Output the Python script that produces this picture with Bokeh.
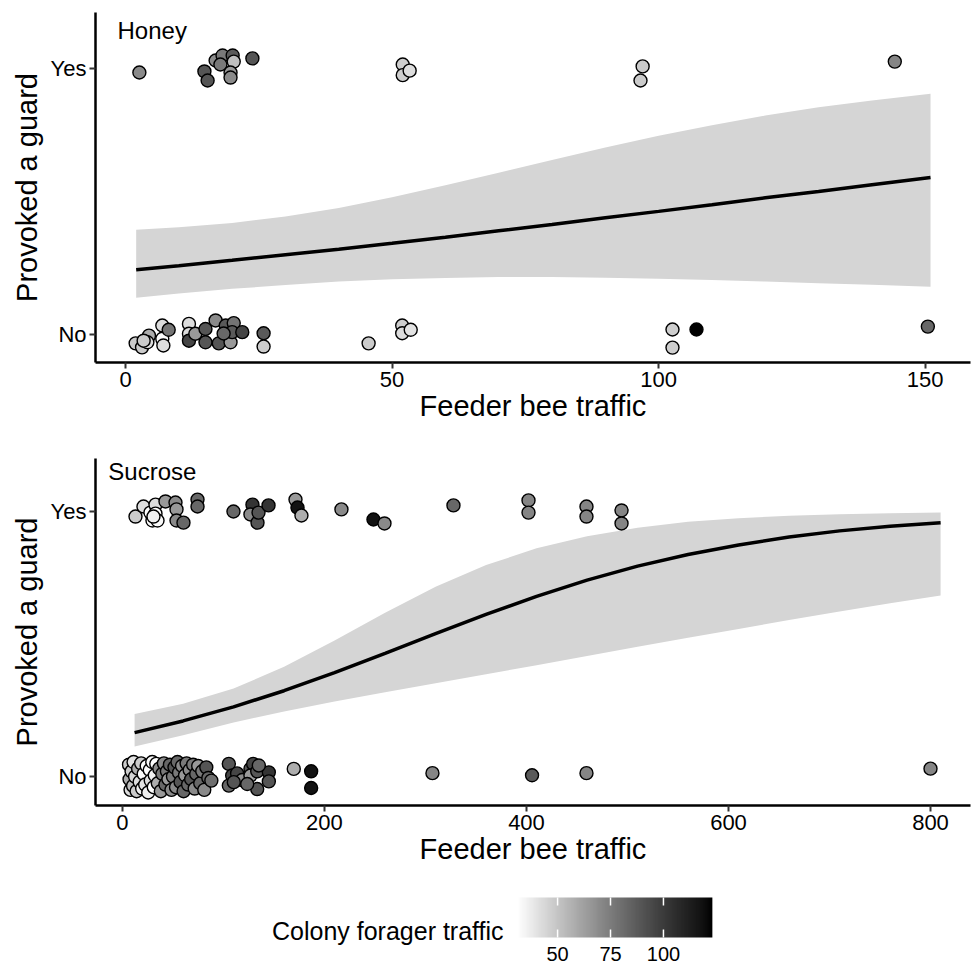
import numpy as np
from bokeh.plotting import figure
from bokeh.models import Range1d, FixedTicker, LinearColorMapper, ColumnDataSource
from bokeh.layouts import column
from bokeh.embed import file_html
from bokeh.resources import INLINE
from bokeh.core.properties import value

FONT = "Liberation Sans"

# ---------------- data ----------------
# colour scale (colony forager traffic)
COL_LOW, COL_HIGH = 31.0, 123.1
CB_TICKS = [50, 75, 100]

# Honey panel: points (x = feeder bee traffic, y = 0/1 with jitter, c = colony forager traffic)
honey_yes_x = [2.6, 14.8, 15.4, 16.9, 18.2, 17.8, 20.1, 20.3, 19.7, 19.7, 23.8, 52.0, 52.0, 53.3, 97.0, 96.6, 144.3]
honey_yes_y = [0.985, 0.989, 0.955, 1.030, 1.049, 1.015, 1.049, 1.026, 0.985, 0.966, 1.038, 1.015, 0.975, 0.992, 1.008, 0.955, 1.026]
honey_yes_c = [70, 90, 90, 70, 76, 76, 88, 52, 65, 70, 90, 47, 47, 42, 48, 48, 72]

honey_no_x = [1.9, 3.1, 4.4, 4.1, 3.4, 6.9, 6.9, 7.1, 8.1, 11.9, 11.9, 11.9, 13.1, 15.0, 15.0, 16.9, 17.5,
              18.8, 19.7, 20.3, 20.0, 21.9, 18.4, 25.9, 25.9, 45.6, 51.9, 51.9, 53.5, 102.6, 102.6, 107.1, 150.5]
honey_no_y = [-0.033, -0.048, -0.004, -0.029, -0.023, 0.034, -0.016, -0.041, 0.018, 0.040, 0.003, -0.023, 0.003,
              0.021, -0.029, 0.053, -0.033, 0.034, -0.029, 0.043, 0.009, 0.009, 0.004, 0.005, -0.045, -0.033,
              0.034, 0.005, 0.018, 0.019, -0.049, 0.019, 0.030]
honey_no_c = [48, 48, 58, 42, 48, 42, 32, 42, 78, 42, 42, 96, 65, 90, 90, 70, 90, 88, 65, 78, 88, 96, 83, 88,
              48, 48, 47, 42, 40, 47, 47, 123, 83]

# Honey fitted curve and confidence band
honey_fx = [2, 10, 20, 30, 40, 50, 60, 70, 80, 90, 100, 110, 120, 130, 140, 151]
honey_fit = [0.244, 0.259, 0.279, 0.300, 0.321, 0.343, 0.366, 0.390, 0.414, 0.439, 0.463, 0.488, 0.514,
             0.538, 0.563, 0.590]
honey_lo = [0.138, 0.154, 0.172, 0.186, 0.199, 0.208, 0.213, 0.216, 0.216, 0.214, 0.210, 0.205, 0.199,
            0.193, 0.187, 0.180]
honey_hi = [0.394, 0.403, 0.419, 0.444, 0.476, 0.516, 0.561, 0.608, 0.656, 0.703, 0.747, 0.787, 0.823,
            0.854, 0.880, 0.905]

# Sucrose panel
sucrose_yes_x = [12.9, 20.8, 27.7, 29.7, 32.7, 32.7, 34.7, 30.7, 42.6, 52.5, 53.5, 53.5, 60.4, 74.3, 74.3,
                 109.9, 128.7, 126.7, 133.7, 134.7, 144.6, 171.3, 173.3, 177.2, 216.8, 248.5, 259.4, 327.7,
                 402.0, 402.0, 459.4, 459.4, 494.1, 494.1]
sucrose_yes_y = [0.981, 1.019, 0.996, 0.966, 1.026, 0.992, 0.966, 0.981, 1.038, 1.034, 1.008, 0.966, 0.958,
                 1.045, 1.019, 1.000, 1.026, 0.989, 0.958, 0.996, 1.023, 1.045, 1.015, 0.985, 1.008, 0.970,
                 0.955, 1.023, 1.042, 0.996, 1.019, 0.981, 1.004, 0.955]
sucrose_yes_c = [48, 42, 32, 33, 42, 32, 33, 36, 65, 70, 65, 70, 83, 83, 83, 83, 103, 70, 90, 90, 103, 65,
                 118, 58, 70, 118, 70, 83, 72, 72, 72, 72, 72, 72]

sucrose_no_x = [6.5, 7.0, 8.0, 9.0, 10.5, 11.0, 12.5, 14.0, 15.5, 17.0, 18.5, 19.5, 21.0, 22.5, 24.0, 25.5,
                27.0, 28.0, 29.5, 31.0, 32.0, 33.5, 35.0, 36.5, 38.0, 39.5, 41.0, 42.5, 44.0, 45.5, 47.0,
                48.5, 50.0, 51.5, 53.0, 54.5, 56.0, 57.5, 59.0, 60.5, 62.0, 63.5, 65.0, 66.5, 68.0, 70.0,
                71.5, 73.0, 75.0, 77.0, 79.0, 81.0, 83.0, 85.0, 88.0,
                105.3, 108.6, 105.3, 113.5, 118.5, 126.7, 129.4, 126.7, 133.4, 133.4, 144.9, 144.9, 123.5,
                110.2, 135.0, 169.6, 186.8, 186.8, 306.9, 405.5, 459.4, 800.0]
sucrose_no_y = [0.045, -0.010, -0.050, 0.020, -0.035, 0.055, 0.000, -0.055, 0.030, -0.020, 0.050, -0.045,
                0.010, -0.030, 0.040, -0.060, 0.025, -0.015, 0.055, -0.040, 0.005, 0.048, -0.025, 0.030,
                -0.055, 0.010, 0.050, -0.030, 0.020, -0.010, 0.045, -0.050, 0.000, 0.035, -0.040, 0.055,
                0.015, -0.020, 0.040, -0.055, 0.005, 0.050, -0.030, 0.025, -0.010, 0.045, -0.045, 0.010,
                0.040, -0.025, 0.020, -0.050, 0.035, -0.005, -0.015,
                0.048, 0.004, -0.034, 0.012, -0.013, 0.029, 0.048, 0.004, -0.047, 0.020, 0.016, -0.018,
                -0.028, -0.021, 0.042, 0.029, 0.020, -0.043, 0.013, 0.005, 0.013, 0.030]
sucrose_no_c = [48, 58, 42, 48, 52, 40, 45, 48, 58, 42, 48, 36, 33, 40, 32, 36, 32, 42, 33, 32, 36, 32, 58,
                70, 65, 76, 70, 83, 76, 65, 83, 70, 76, 90, 70, 83, 76, 90, 70, 83, 65, 76, 83, 70, 90, 76,
                70, 83, 65, 83, 76, 70, 90, 83, 80,
                90, 96, 83, 96, 70, 90, 96, 65, 90, 90, 103, 90, 83, 90, 83, 58, 118, 118, 72, 88, 72, 72]

sucrose_fx = [12, 60, 110, 160, 210, 260, 310, 360, 410, 460, 510, 560, 610, 660, 710, 760, 810]
sucrose_fit = [0.166, 0.210, 0.263, 0.324, 0.392, 0.465, 0.539, 0.612, 0.680, 0.741, 0.794, 0.838, 0.874,
               0.904, 0.927, 0.944, 0.958]
sucrose_lo = [0.114, 0.156, 0.204, 0.246, 0.283, 0.318, 0.352, 0.386, 0.420, 0.455, 0.490, 0.524, 0.557,
              0.591, 0.623, 0.654, 0.683]
sucrose_hi = [0.236, 0.275, 0.332, 0.414, 0.513, 0.618, 0.716, 0.798, 0.861, 0.907, 0.939, 0.961, 0.975,
              0.984, 0.990, 0.993, 0.996]

honey_xticks = [0, 50, 100, 150]
sucrose_xticks = [0, 200, 400, 600, 800]
y_ticks = [0, 1]
y_labels = {0: "No", 1: "Yes"}


# ---------------- colour palette (white -> black, perceptual) ----------------
def lab_gray(L):
    fy = (L + 16) / 116
    Y = fy ** 3 if fy > 6 / 29 else 3 * (6 / 29) ** 2 * (fy - 4 / 29)
    c = 12.92 * Y if Y <= 0.0031308 else 1.055 * Y ** (1 / 2.4) - 0.055
    v = int(round(max(0.0, min(1.0, c)) * 255))
    return "#%02x%02x%02x" % (v, v, v)


palette = [lab_gray(100 - 100 * i / 255) for i in range(256)]
mapper = LinearColorMapper(palette=palette, low=COL_LOW, high=COL_HIGH)

W = 971
LEFT = 95
RIGHT = 1


def make_panel(height, top, bottom, xr, yr, xticks, fx, fit, lo, hi, pts, label, lx, ly):
    p = figure(width=W, height=height, x_range=Range1d(*xr), y_range=Range1d(*yr),
               output_backend="svg", toolbar_location=None,
               min_border_left=LEFT, min_border_right=RIGHT, min_border_top=top, min_border_bottom=bottom)
    p.grid.visible = False
    p.outline_line_color = None
    p.background_fill_color = "white"
    p.varea(x=fx, y1=lo, y2=hi, fill_color="#d5d5d5", fill_alpha=1.0)
    p.line(fx, fit, line_color="black", line_width=3.5)
    for xs, ys, cs in pts:
        src = ColumnDataSource(dict(x=xs, y=ys, c=cs))
        p.scatter("x", "y", source=src, size=13,
                  fill_color={"field": "c", "transform": mapper},
                  line_color="black", line_width=1.4)
    p.text(x=[lx], y=[ly], text=[label], text_font=value(FONT), text_font_size="24px",
           text_baseline="middle", text_align="left", text_color="black")

    p.xaxis.ticker = FixedTicker(ticks=xticks)
    p.yaxis.ticker = FixedTicker(ticks=y_ticks)
    p.yaxis.major_label_overrides = y_labels
    p.xaxis.axis_label = "Feeder bee traffic"
    p.yaxis.axis_label = "Provoked a guard"
    for ax in (p.xaxis, p.yaxis):
        ax.axis_line_color = "black"
        ax.axis_line_width = 2.5
        ax.major_tick_line_color = "#333333"
        ax.major_tick_line_width = 2
        ax.major_tick_out = 6
        ax.major_tick_in = 0
        ax.minor_tick_out = 0
        ax.minor_tick_in = 0
        ax.major_label_text_font = FONT
        ax.major_label_text_font_size = "22px"
        ax.major_label_text_color = "black"
        ax.major_label_standoff = 3
        ax.axis_label_text_font = FONT
        ax.axis_label_text_font_size = "29px"
        ax.axis_label_text_font_style = "normal"
        ax.axis_label_text_color = "black"
    p.xaxis.axis_label_standoff = 0
    p.yaxis.axis_label_standoff = 5
    return p


p1 = make_panel(440, 12, 78, (-5.63, 158.5), (-0.105, 1.2105), honey_xticks,
                honey_fx, honey_fit, honey_lo, honey_hi,
                [(honey_yes_x, honey_yes_y, honey_yes_c), (honey_no_x, honey_no_y, honey_no_c)],
                "Honey", -1.5, 1.143)
p2 = make_panel(435, 18, 70, (-26.7, 839.6), (-0.109, 1.2), sucrose_xticks,
                sucrose_fx, sucrose_fit, sucrose_lo, sucrose_hi,
                [(sucrose_yes_x, sucrose_yes_y, sucrose_yes_c), (sucrose_no_x, sucrose_no_y, sucrose_no_c)],
                "Sucrose", -14.0, 1.151)

# ---------------- colour bar ----------------
p3 = figure(width=W, height=90, x_range=Range1d(-168.2, 245.0), y_range=Range1d(-0.7, 1.55),
            output_backend="svg", toolbar_location=None, x_axis_location=None, y_axis_location=None,
            min_border_left=LEFT, min_border_right=RIGHT, min_border_top=0, min_border_bottom=0)
p3.grid.visible = False
p3.outline_line_color = None
grad = np.linspace(COL_LOW, COL_HIGH, 400).reshape(1, -1)
p3.image(image=[grad], x=COL_LOW, y=0, dw=COL_HIGH - COL_LOW, dh=1, color_mapper=mapper)
p3.segment(x0=CB_TICKS, y0=[0] * 3, x1=CB_TICKS, y1=[0.2] * 3, line_color="white", line_width=1.5)
p3.segment(x0=CB_TICKS, y0=[0.8] * 3, x1=CB_TICKS, y1=[1.0] * 3, line_color="white", line_width=1.5)
p3.text(x=CB_TICKS, y=[-0.42] * 3, text=[str(t) for t in CB_TICKS], text_font=value(FONT),
        text_font_size="20px", text_align="center", text_baseline="middle", text_color="black")
p3.text(x=[24.5], y=[0.175], text=["Colony forager traffic"], text_font=value(FONT),
        text_font_size="25px", text_align="right", text_baseline="middle", text_color="black")

layout = column(p1, p2, p3, spacing=0)
open("out.html", "w").write(file_html(layout, INLINE))
